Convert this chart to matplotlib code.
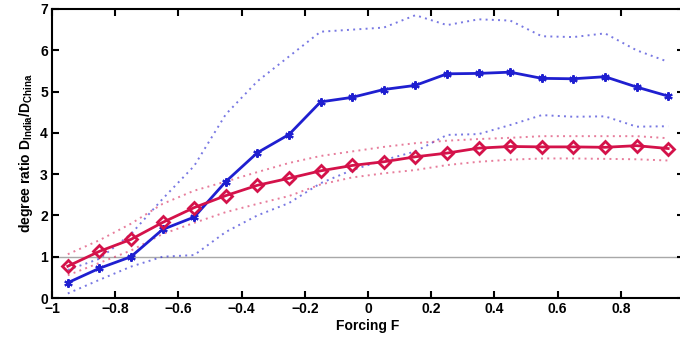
import numpy as np
import matplotlib
matplotlib.use("Agg")
import matplotlib.pyplot as plt

# forcing values (bin centres)
forcing = [-0.95, -0.85, -0.75, -0.65, -0.55, -0.45, -0.35, -0.25, -0.15, -0.05,
           0.05, 0.15, 0.25, 0.35, 0.45, 0.55, 0.65, 0.75, 0.85, 0.95]

# blue series (mean + dotted band)
blue_mean = [0.37, 0.72, 1.0, 1.66, 1.96, 2.82, 3.52, 3.96, 4.75, 4.86,
             5.05, 5.15, 5.43, 5.44, 5.47, 5.32, 5.31, 5.36, 5.11, 4.89]
blue_hi = [0.68, 0.95, 1.55, 2.4, 3.2, 4.45, 5.25, 5.85, 6.45, 6.5,
           6.55, 6.85, 6.61, 6.75, 6.72, 6.34, 6.32, 6.41, 6.0, 5.72]
blue_lo = [0.11, 0.44, 0.76, 1.0, 1.04, 1.6, 2.0, 2.3, 2.78, 3.1,
           3.34, 3.55, 3.95, 3.97, 4.19, 4.43, 4.39, 4.4, 4.15, 4.16]

# red series (mean + dotted band)
red_mean = [0.77, 1.13, 1.42, 1.83, 2.19, 2.48, 2.73, 2.9, 3.08, 3.21,
            3.3, 3.42, 3.51, 3.63, 3.67, 3.66, 3.66, 3.65, 3.69, 3.62]
red_hi = [1.06, 1.4, 1.8, 2.28, 2.6, 2.82, 3.05, 3.27, 3.44, 3.55,
          3.66, 3.75, 3.81, 3.85, 3.88, 3.92, 3.92, 3.92, 3.92, 3.87]
red_lo = [0.55, 0.85, 1.15, 1.55, 1.82, 2.08, 2.28, 2.47, 2.75, 2.92,
          3.02, 3.1, 3.22, 3.3, 3.35, 3.38, 3.38, 3.37, 3.36, 3.33]

BLUE = "#1f1fd0"
RED = "#d4124a"
DOT = (0, (1, 2.2))

plt.rcParams["font.family"] = ["Liberation Sans", "DejaVu Sans"]
plt.rcParams["font.weight"] = "bold"
plt.rcParams["mathtext.fontset"] = "custom"
plt.rcParams["mathtext.rm"] = "Liberation Sans:bold"
plt.rcParams["mathtext.bf"] = "Liberation Sans:bold"

fig = plt.figure(figsize=(6.8, 3.41), dpi=100)
ax = fig.add_axes([52 / 680, 43 / 341, 632 / 680, 289 / 341])

ax.axhline(1, color="#a8a8a8", lw=1.0, zorder=1)

ax.plot(forcing, blue_hi, ls=DOT, color=BLUE, lw=1.4, alpha=0.6)
ax.plot(forcing, blue_lo, ls=DOT, color=BLUE, lw=1.4, alpha=0.6)
ax.plot(forcing, red_hi, ls=DOT, color=RED, lw=1.4, alpha=0.55)
ax.plot(forcing, red_lo, ls=DOT, color=RED, lw=1.4, alpha=0.55)

ax.plot(forcing, blue_mean, "-", color=BLUE, lw=2.0, marker=(6, 2, 0),
        ms=6, mew=1.5, zorder=4)
ax.plot(forcing, red_mean, "-", color=RED, lw=2.0, marker="D", ms=6.5,
        mfc="none", mec=RED, mew=2.0, zorder=5)

ax.set_xlim(-1, 1)
ax.set_ylim(0, 7)
ax.set_xticks(np.arange(-1, 1.01, 0.2))
ax.set_xticklabels(["\u22121", "\u22120.8", "\u22120.6", "\u22120.4", "\u22120.2",
                    "0", "0.2", "0.4", "0.6", "0.8", "1"])
ax.set_yticks(range(0, 8))
ax.tick_params(direction="in", top=True, right=True, length=5, width=1.5,
               labelsize=10, pad=3)
for s in ax.spines.values():
    s.set_linewidth(1.5)

ax.set_xlabel("Forcing F", fontsize=10, fontweight="bold", labelpad=2)
ax.set_ylabel(r"degree ratio D$_{\mathbf{India}}$/D$_{\mathbf{China}}$",
              fontsize=10, fontweight="bold", labelpad=4)

fig.savefig("out.png", dpi=100)
